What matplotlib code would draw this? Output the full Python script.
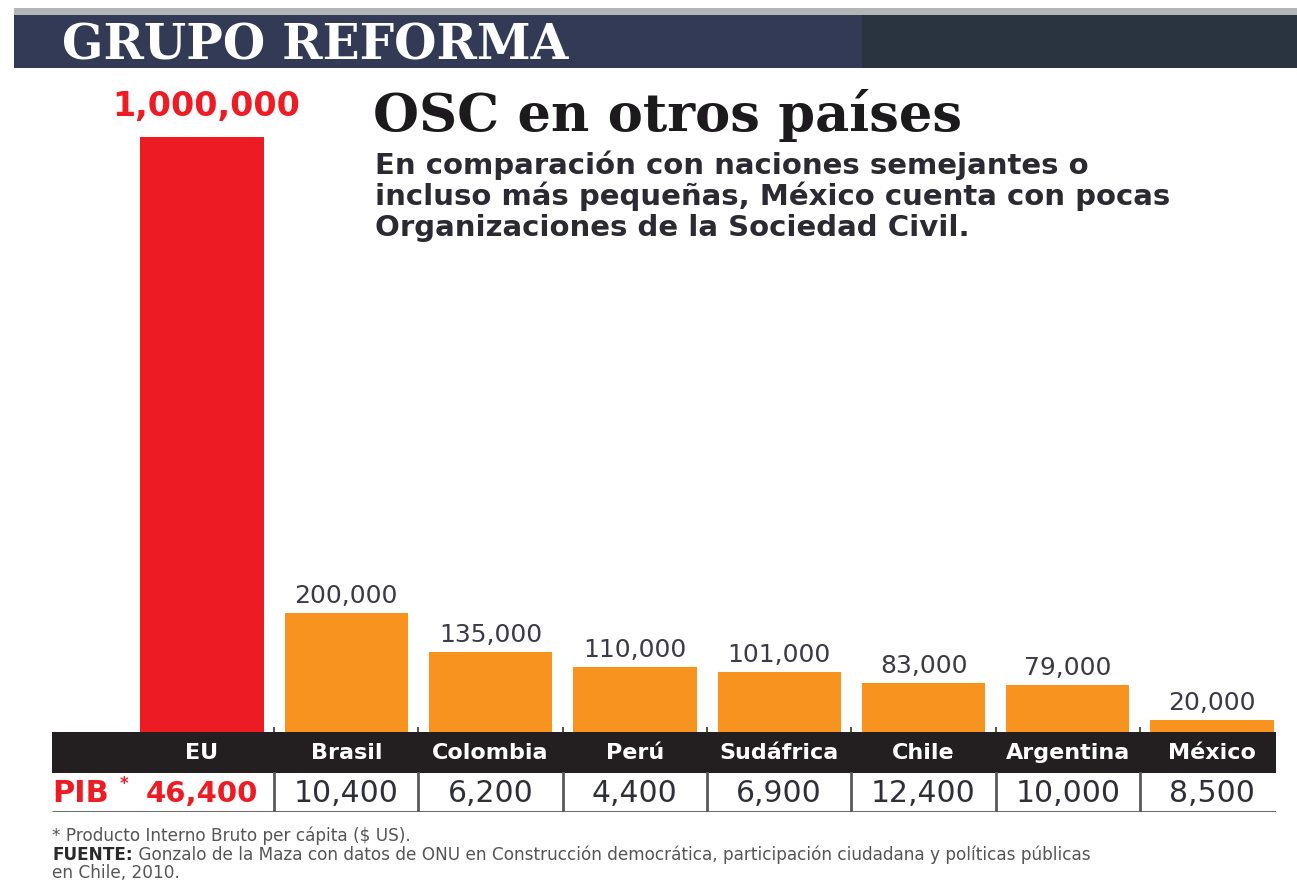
import matplotlib
matplotlib.use("Agg")
import matplotlib.pyplot as plt
from matplotlib.patches import Rectangle

plt.rcParams['font.family'] = ['DejaVu Sans']

# ---- data ----
countries = ['EU', 'Brasil', 'Colombia', 'Perú', 'Sudáfrica', 'Chile', 'Argentina', 'México']
osc = [1000000, 200000, 135000, 110000, 101000, 83000, 79000, 20000]
pib = [46400, 10400, 6200, 4400, 6900, 12400, 10000, 8500]
bar_colors = ['#ed1c24'] + ['#f7931e'] * 7

title = 'OSC en otros países'
subtitle = ['En comparación con naciones semejantes o',
            'incluso más pequeñas, México cuenta con pocas',
            'Organizaciones de la Sociedad Civil.']
brand = 'GRUPO REFORMA'
note1 = '* Producto Interno Bruto per cápita ($ US).'
source_lab = 'FUENTE:'
source_txt = ' Gonzalo de la Maza con datos de ONU en Construcción democrática, participación ciudadana y políticas públicas'
source_txt2 = 'en Chile, 2010.'

W, H = 1297, 882
fig = plt.figure(figsize=(W / 100, H / 100), dpi=100)
fig.patch.set_facecolor('white')


def fx(x):
    return x / W


def fy(y):
    return 1 - y / H


# ---- header band ----
fig.add_artist(Rectangle((fx(14), fy(15)), fx(1297 - 14), 7 / H, transform=fig.transFigure,
                         facecolor='#b5b5b5', edgecolor='none'))
fig.add_artist(Rectangle((fx(14), fy(68)), fx(862 - 14), 53 / H, transform=fig.transFigure,
                         facecolor='#323a55', edgecolor='none'))
fig.add_artist(Rectangle((fx(862), fy(68)), fx(1297 - 862), 53 / H, transform=fig.transFigure,
                         facecolor='#2a3340', edgecolor='none'))
fig.text(fx(62), fy(60), brand, color='white', fontsize=35, fontweight='bold',
         family='DejaVu Serif', va='baseline', ha='left')

# ---- bars ----
x0, x1 = 52, 1276
c0, step = 202, 144.3
xl = ((x0 - c0) / step, (x1 - c0) / step)
ax = fig.add_axes([fx(x0), fy(732), (x1 - x0) / W, (732 - 137) / H])
xs = list(range(len(countries)))
ax.bar(xs, osc, width=0.855, color=bar_colors, edgecolor='none')
ax.set_xlim(*xl)
ax.set_ylim(0, max(osc))
ax.axis('off')
for i, v in enumerate(osc):
    if i == 0:
        ax.annotate(f'{v:,}', (i, v), xytext=(4, 14), textcoords='offset pixels',
                    ha='center', va='bottom', color='#ed1c24', fontsize=24,
                    fontweight='bold', annotation_clip=False)
    else:
        ax.annotate(f'{v:,}', (i, v), xytext=(0, 5), textcoords='offset pixels',
                    ha='center', va='bottom', color='#3b3a48', fontsize=18,
                    annotation_clip=False)
# small ticks at baseline between bars
for i in range(len(countries) - 1):
    ax.plot([i + 0.5, i + 0.5], [0, 9000], color='#555555', lw=1.5,
            solid_capstyle='butt', clip_on=False)

# ---- table ----
tax = fig.add_axes([fx(x0), fy(812), (x1 - x0) / W, 80 / H])
tax.set_xlim(*xl)
tax.set_ylim(80, 0)
tax.axis('off')
tax.add_patch(Rectangle((xl[0], 0), xl[1] - xl[0], 41, facecolor='#231f20',
                        edgecolor='none'))
tax.plot([xl[0], xl[1]], [79.5, 79.5], color='#6d6d6d', lw=2.2, solid_capstyle='butt')
for i in range(len(countries) - 1):
    tax.plot([i + 0.5, i + 0.5], [41, 79], color='#5a5a5a', lw=2)
for i, name in enumerate(countries):
    tax.text(i, 21, name, ha='center', va='center', color='white', fontsize=16,
             fontweight='bold')
for i, v in enumerate(pib):
    if i == 0:
        tax.text(xl[0] + 0.005, 70, 'PIB', ha='left', va='baseline', color='#ed1c24',
                 fontsize=22, fontweight='bold')
        tax.text(xl[0] + 0.47, 57, '*', ha='left', va='baseline', color='#ed1c24',
                 fontsize=12, fontweight='bold')
        tax.text(0.39, 70, f'{v:,}', ha='right', va='baseline', color='#ed1c24',
                 fontsize=21, fontweight='bold')
    else:
        tax.text(i, 70, f'{v:,}', ha='center', va='baseline', color='#2f2f3a',
                 fontsize=21.5)

# ---- title & subtitle ----
fig.text(fx(373), fy(131), title, color='#1c1a1c', fontsize=38, fontweight='bold',
         family='DejaVu Serif', va='baseline', ha='left')
for k, line in enumerate(subtitle):
    fig.text(fx(375), fy(174 + 31 * k), line, color='#2b2a33', fontsize=21,
             fontweight='bold', va='baseline', ha='left')

# ---- notes ----
fs = 12.2
fig.text(fx(52), fy(841), note1, color='#555555', fontsize=fs, va='baseline', ha='left')
t = fig.text(fx(52), fy(860), source_lab, color='#2a2a2a', fontsize=fs,
             fontweight='bold', va='baseline', ha='left')
fig.canvas.draw()
bb = t.get_window_extent()
fig.text(bb.x1 / W, fy(860), source_txt, color='#555555', fontsize=fs,
         va='baseline', ha='left')
fig.text(fx(52), fy(878), source_txt2, color='#555555', fontsize=fs,
         va='baseline', ha='left')

fig.savefig('out.png', dpi=100, facecolor='white')
